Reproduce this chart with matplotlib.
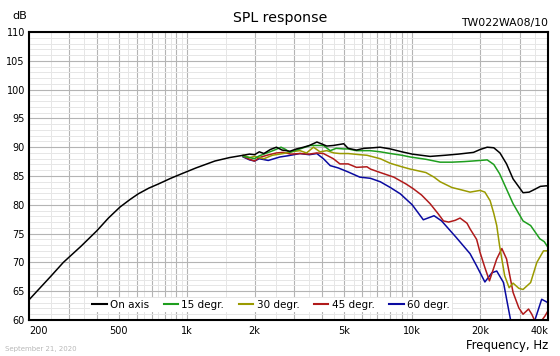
import matplotlib
matplotlib.use('Agg')
import matplotlib.pyplot as plt
import numpy as np
from matplotlib.ticker import FixedLocator, NullFormatter

# on axis
f_on = [200, 250, 284, 340, 400, 450, 506, 560, 610, 680, 748, 850, 952, 1100, 1334, 1550, 1781,
        1900, 2000, 2100, 2200, 2350, 2500, 2650, 2870, 3070, 3300, 3500, 3780, 3950, 4180, 4470,
        4970, 5200, 5660, 6100, 6700, 7200, 8000, 9000, 10000, 12000, 14000, 16000, 18700, 20000,
        21500, 23000, 24500, 26200, 28000, 31000, 33000, 35000, 37000, 39400, 40000]
db_on = [63.5, 67.6, 70.0, 72.8, 75.5, 77.7, 79.6, 80.9, 81.9, 82.9, 83.6, 84.6, 85.4, 86.4, 87.6, 88.2, 88.6,
         88.8, 88.7, 89.2, 88.9, 89.6, 90.0, 89.5, 89.3, 89.7, 90.0, 90.3, 90.9, 90.6, 90.2, 90.3,
         90.6, 89.8, 89.5, 89.8, 89.9, 90.0, 89.7, 89.2, 88.8, 88.4, 88.6, 88.8, 89.1, 89.6,
         90.0, 89.9, 89.0, 87.1, 84.5, 82.1, 82.2, 82.7, 83.2, 83.3, 83.2]

# 15 degrees
f_15 = [1781, 1900, 2000, 2100, 2270, 2450, 2620, 2750, 2870, 3000, 3180, 3530, 4040, 4330, 4600,
        4970, 5200, 5660, 6500, 7220, 8000, 9000, 9800, 11500, 13300, 15000, 17000, 18500, 20000,
        21500, 23000, 24400, 26000, 28000, 31000, 33500, 36800, 38500, 40000]
db_15 = [88.4, 88.2, 88.0, 88.5, 89.0, 89.5, 90.0, 89.6, 89.1, 89.4, 89.7, 90.3, 90.3, 89.4, 89.8,
         89.7, 89.7, 89.4, 89.4, 89.2, 88.9, 88.6, 88.3, 87.9, 87.4, 87.4, 87.5, 87.6, 87.7,
         87.8, 87.0, 85.4, 83.0, 80.2, 77.2, 76.4, 74.1, 73.6, 72.6]

# 30 degrees
f_30 = [1781, 1900, 2000, 2200, 2400, 2680, 2900, 3180, 3400, 3650, 3900, 4180, 4500, 4780, 5200,
        5860, 6300, 7220, 8000, 9000, 9800, 11500, 12500, 13300, 15000, 16500, 18060, 20000, 21000,
        22160, 23000, 23700, 24400, 25700, 26900, 28000, 29700, 31000, 33500, 35700, 38200, 40000]
db_30 = [88.6, 88.2, 88.4, 88.0, 88.6, 88.9, 89.2, 89.4, 89.0, 90.0, 89.2, 89.4, 89.0, 88.9, 88.9,
         88.7, 88.6, 88.0, 87.2, 86.6, 86.2, 85.6, 84.8, 84.0, 83.0, 82.6, 82.2, 82.5, 82.2,
         80.7, 78.5, 76.4, 72.9, 67.7, 65.6, 66.4, 65.5, 65.3, 66.5, 70.0, 72.0, 72.0]

# 45 degrees
f_45 = [1781, 1900, 2000, 2100, 2270, 2500, 2680, 2900, 3180, 3500, 3780, 4040, 4470, 4780, 5200,
        5660, 6300, 6530, 7220, 8290, 9400, 10100, 11000, 12000, 13000, 13760, 14500, 15500, 16300,
        17500, 18060, 19300, 20000, 21000, 22000, 23700, 24970, 26200, 28000, 29700, 31000, 32800,
        33900, 35000, 37000, 38800, 40000]
db_45 = [88.4, 87.9, 87.6, 88.2, 88.6, 89.0, 89.1, 88.8, 88.9, 88.8, 89.0, 88.9, 88.0, 87.1, 87.1,
         86.5, 86.6, 86.2, 85.6, 84.8, 83.6, 82.8, 81.7, 80.2, 78.5, 77.2, 77.0, 77.3, 77.7,
         76.8, 75.8, 74.0, 71.7, 69.1, 66.8, 70.6, 72.4, 70.6, 64.8, 62.1, 61.0, 61.9,
         61.0, 59.8, 59.6, 60.7, 61.6]

# 60 degrees
f_60 = [1781, 1900, 2000, 2100, 2300, 2590, 2800, 3180, 3500, 3776, 4040, 4330, 4700, 5200, 5860,
        6530, 7220, 8000, 8860, 10000, 11200, 12500, 13500, 15700, 18060, 19300, 21000, 22560,
        23700, 25400, 26400, 27300, 28500, 33000, 35000, 37500, 40000]
db_60 = [88.3, 87.8, 87.6, 88.0, 87.7, 88.3, 88.5, 88.9, 88.7, 88.9, 88.0, 86.8, 86.4, 85.7, 84.8,
         84.6, 84.0, 83.0, 81.9, 80.0, 77.4, 78.1, 77.2, 74.3, 71.5, 69.4, 66.6, 68.2,
         68.5, 66.5, 63.0, 60.0, 57.0, 57.0, 60.0, 63.6, 63.0]

series = [
    (f_on, db_on, '#000000', 'On axis'),
    (f_15, db_15, '#1e9e1e', '15 degr.'),
    (f_30, db_30, '#9a9a00', '30 degr.'),
    (f_45, db_45, '#b01a1a', '45 degr.'),
    (f_60, db_60, '#0a0aa0', '60 degr.'),
]

xticks = [200, 500, 1000, 2000, 5000, 10000, 20000, 40000]
xlabels = ['200', '500', '1k', '2k', '5k', '10k', '20k', '40k']

fig = plt.figure(figsize=(5.6, 3.56), dpi=100)
ax = fig.add_axes([29 / 560, 36 / 356, 519 / 560, 288 / 356])

# off-axis first so on axis sits on top
for fx, dbx, col, lab in series[::-1]:
    ax.plot(fx, dbx, color=col, lw=1.1, label=lab)

ax.set_xscale('log')
ax.set_xlim(200, 40000)
ax.set_ylim(60, 110)

major_x = [m * 10 ** d for d in range(2, 5) for m in range(1, 10) if 200 <= m * 10 ** d <= 40000]
minor_x = [m * 10 ** d for d in range(2, 5) for m in np.arange(1.5, 10, 1.0) if 200 <= m * 10 ** d <= 40000]
for xv in minor_x:
    ax.axvline(xv, color='#e6e6e6', lw=0.7, zorder=0)
for xv in major_x:
    ax.axvline(xv, color='#b4b4b4', lw=0.8, zorder=0)
for yv in range(60, 111):
    if yv % 5:
        ax.axhline(yv, color='#e6e6e6', lw=0.7, zorder=0)
    else:
        ax.axhline(yv, color='#b4b4b4', lw=0.8, zorder=0)

ax.xaxis.set_major_locator(FixedLocator(xticks))
ax.set_xticklabels(xlabels)
ax.xaxis.set_minor_locator(FixedLocator([]))
ax.xaxis.set_minor_formatter(NullFormatter())
ax.set_yticks(range(60, 111, 5))
ax.tick_params(length=0, labelsize=7, pad=4)
ax.tick_params(axis='y', pad=3)
tl = ax.get_xticklabels()
tl[0].set_horizontalalignment('left')
tl[-1].set_horizontalalignment('right')
for s in ax.spines.values():
    s.set_linewidth(1.5)

handles, labels = ax.get_legend_handles_labels()
leg = ax.legend(handles[::-1], labels[::-1], loc='center', bbox_to_anchor=(0.466, 0.052),
                ncol=5, frameon=True, fontsize=7.5, handlelength=1.4, handletextpad=0.3,
                columnspacing=1.4, borderpad=0.2)
leg.get_frame().set_facecolor('white')
leg.get_frame().set_edgecolor('none')
leg.get_frame().set_alpha(1.0)
for line in leg.get_lines():
    line.set_linewidth(1.5)

fig.text(280 / 560, 1 - 18 / 356, 'SPL response', ha='center', va='center', fontsize=10.2)
fig.text(12 / 560, 1 - 16 / 356, 'dB', ha='left', va='center', fontsize=8)
fig.text(548 / 560, 1 - 23 / 356, 'TW022WA08/10', ha='right', va='center', fontsize=7.8)
fig.text(548 / 560, 1 - 345 / 356, 'Frequency, Hz', ha='right', va='center', fontsize=8.4)
fig.text(5 / 560, 1 - 349 / 356, 'September 21, 2020', ha='left', va='center', fontsize=5, color='#b8b8b8')

fig.savefig('out.png', dpi=100)
